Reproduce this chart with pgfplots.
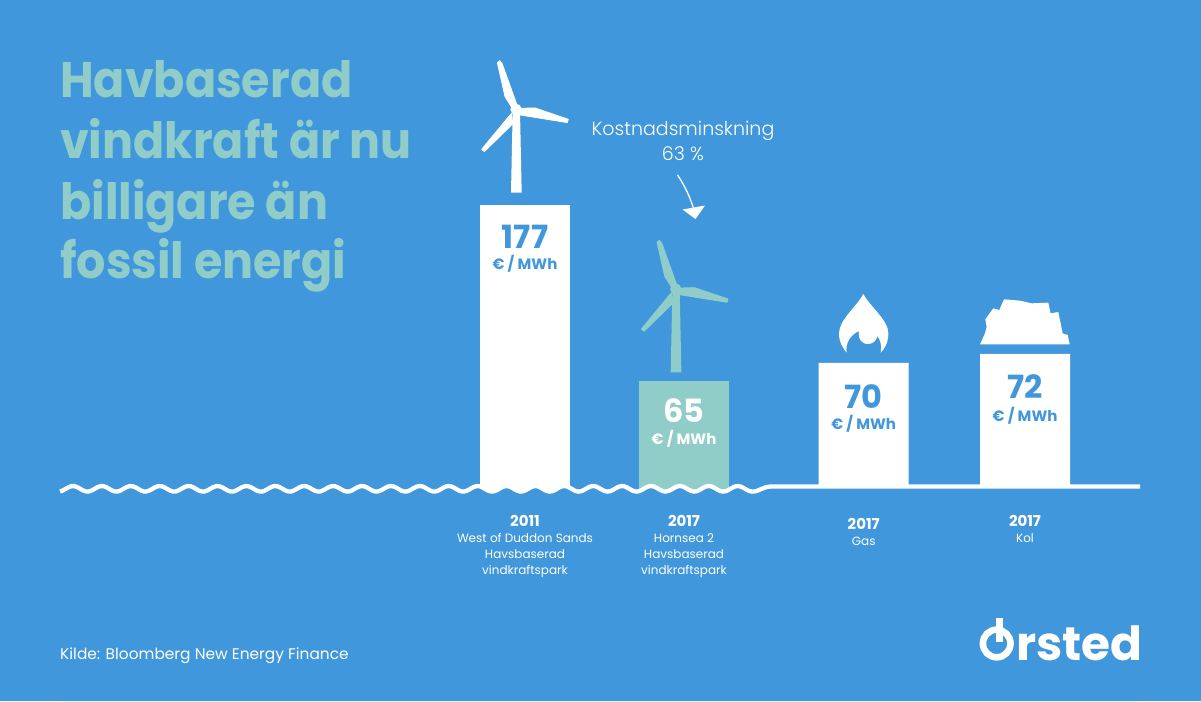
\documentclass[border=0pt]{standalone}
\usepackage{pgfplots}
\pgfplotsset{compat=1.18}
\usepackage{fontspec}
\setmainfont{Poppins}
\newfontfamily\semi[FakeStretch=0.92]{Poppins Bold}
\newfontfamily\lite{Poppins Light}
\definecolor{bg}{HTML}{4197DB}
\definecolor{teal}{HTML}{91CDC8}
\pgfplotstableread{
x h
525 287
}\barA
\pgfplotstableread{
x h
684 110.5
}\barB
\pgfplotstableread{
x h
863.7 129
1025 138
}\barC
\newcommand{\turbine}[3]{%
\begin{scope}[shift={(#1,#2)},x=0.3333pt,y=-0.3333pt]
\fill[#3,draw=#3,line width=0.8pt,line join=round]
 (-56,-140)--(-49,-146)--(-42,-138)--(4,-10)--(-13,-6)--(-33,-38)--cycle;
\fill[#3,draw=#3,line width=0.8pt,line join=round]
 (12,-3)--(57,-4)--(157,30)--(154,40)--(12,17)--cycle;
\fill[#3,draw=#3,line width=0.8pt,line join=round]
 (-13,12)--(-10,44)--(-95,127)--(-103,120)--(-18,17)--cycle;
\fill[#3] (0,0) circle (17);
\fill[#3] (-10,5)--(12,5)--(17,250)--(-15,250)--cycle;
\end{scope}}
\newcommand{\val}[6]{%
\node[text=#4,font=\fontsize{32}{32}\selectfont\bfseries,inner sep=0] at (#1,#2) {#3};
\node[text=#5,font=\fontsize{15}{15}\selectfont\bfseries,inner sep=0] at (#1,#2+#6) {€ / MWh};}
\newcommand{\yr}[3]{\node[text=white,font=\fontsize{15}{15}\selectfont\bfseries,inner sep=0] at (#1,#2) {#3};}
\newcommand{\sub}[3]{\node[text=white,font=\fontsize{12}{12}\selectfont,inner sep=0] at (#1,#2) {#3};}
\newcommand{\head}[2]{\node[anchor=base west,text=teal,font=\fontsize{50}{50}\semi,inner sep=0] at (60,#1) {#2};}
\begin{document}
\begin{tikzpicture}
\begin{axis}[width=1201pt,height=701pt,scale only axis,hide axis,clip=false,
 xmin=0,xmax=1201,ymin=-209,ymax=492]
\begin{scope}[shift={(axis cs:0,492)},x=1pt,y=-1pt]
\fill[bg] (0,0) rectangle (1201,701);
\end{scope}
\addplot[ybar,bar width=90pt,bar shift=0pt,fill=white,draw=none] table[x=x,y=h]{\barA};
\addplot[ybar,bar width=90pt,bar shift=0pt,fill=teal,draw=none] table[x=x,y=h]{\barB};
\addplot[ybar,bar width=90pt,bar shift=0pt,fill=white,draw=none] table[x=x,y=h]{\barC};
\begin{scope}[shift={(axis cs:0,492)},x=1pt,y=-1pt]
% water and ground
\fill[bg] plot[domain=60:752,samples=240] (\x,{488.8-2.8*cos((\x-73)/28.9*360)}) .. controls (760,491.6) and (762,486.5) .. (772,486.5) -- (1140,486.5) -- (1140,701) -- (60,701) -- cycle;
\draw[white,line width=4.3pt] plot[domain=60:752,samples=240] (\x,{488.8-2.8*cos((\x-73)/28.9*360)}) .. controls (760,491.6) and (762,486.5) .. (772,486.5) -- (1140,486.5);
% turbines
\turbine{516}{109.3}{white}
\turbine{675.7}{289}{teal}
% headline
\head{98}{Havbaserad}
\head{159}{vindkraft är nu}
\head{220}{billigare än}
\head{279}{fossil energi}
% callout
\node[text=white,font=\fontsize{19}{19}\lite,inner sep=0] at (683,131) {Kostnadsminskning};
\node[text=white,font=\fontsize{19}{19}\lite,inner sep=0] at (683,154) {63 \%};
\draw[white,line width=1.3pt] (677.5,175) .. controls (685,186) and (690,197) .. (694,210);
\fill[white] (682.5,209.5)--(705,205.5)--(695.5,219)--cycle;
% values
\val{525}{237}{177}{bg}{bg}{27}
\val{684}{411}{65}{white}{white}{28}
\val{863.7}{397}{70}{bg}{bg}{27}
\val{1025}{387}{72}{bg}{bg}{29}
% category labels
\yr{525}{521}{2011}
\yr{684}{521}{2017}
\yr{863.7}{524}{2017}
\yr{1025}{521}{2017}
\sub{525}{538}{West of Duddon Sands}
\sub{525}{554}{Havsbaserad}
\sub{525}{571}{vindkraftspark}
\sub{684}{538}{Hornsea 2}
\sub{684}{554}{Havsbaserad}
\sub{684}{571}{vindkraftspark}
\sub{863.7}{541}{Gas}
\sub{1025}{538}{Kol}
\node[anchor=base west,text=white,font=\fontsize{15.4}{15.4}\selectfont,inner sep=0] at (60,659.5) {Kilde: Bloomberg New Energy Finance};
% flame
\begin{scope}[shift={(800,280)},x=0.3333pt,y=-0.3333pt]
\fill[white] (190,42) .. controls (170,80) and (117,120) .. (117,160) .. controls (117,185) and (128,205) .. (140,218)
 .. controls (136,190) and (150,165) .. (177,153) .. controls (172,180) and (190,195) .. (207,192)
 .. controls (222,190) and (230,180) .. (232,168) .. controls (242,180) and (246,200) .. (242,218)
 .. controls (256,205) and (265,185) .. (265,160) .. controls (265,120) and (210,80) .. (190,42) -- cycle;
\fill[white] (540,193)--(555,160)--(560,140)--(556,118)--(580,85)--(598,90)--(612,58)--(660,62)--(695,70)--(745,68)--(752,100)--(775,96)--(788,160)--(803,165)--(809,193)--cycle;
\end{scope}
% logo
\draw[white,line width=6.6pt] (996.7,643.5) circle (13.8);
\fill[white] (996,618)--(1003,618)--(1003,642)--(996,642)--cycle;
\node[anchor=base west,text=white,font=\fontsize{47}{47}\selectfont\bfseries,inner sep=0] at (1016,660.5) {rsted};
\end{scope}
\end{axis}
\end{tikzpicture}
\end{document}
